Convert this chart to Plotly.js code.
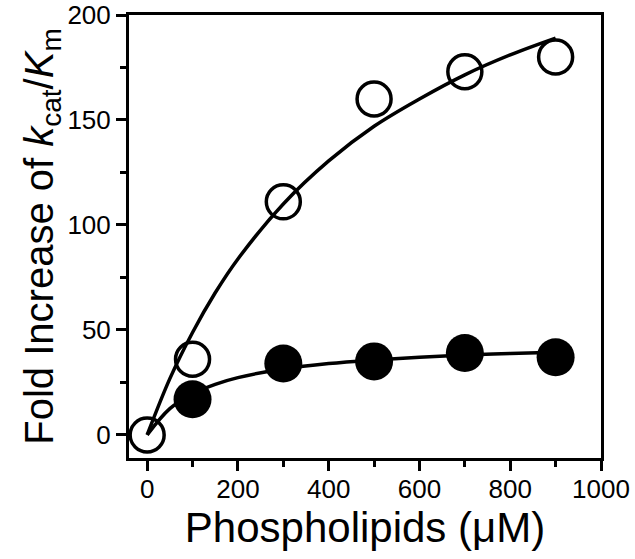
<!DOCTYPE html>
<html><head><meta charset="utf-8">
<script src="https://cdn.plot.ly/plotly-3.0.1.min.js"></script>
<style>html,body{margin:0;padding:0;background:#fff}</style>
</head><body><div id="chart" style="width:635px;height:559px"></div>
<script>
// Data points
const concentrations = [0, 100, 300, 500, 700, 900];
const openValues = [0, 36, 111, 160, 173, 180];
const filledConc = [100, 300, 500, 700, 900];
const filledValues = [17, 34, 35, 39, 37];
// Fitted curves
const fitX = [0, 50, 100, 150, 200, 300, 400, 500, 600, 700, 800, 900];
const openFitY = [0, 26.8, 48.8, 67.7, 83.8, 110, 130.5, 147, 160, 171.5, 181, 189];
const filledFitY = [0, 12.5, 19.6, 24.1, 27.3, 31.4, 34, 35.7, 37, 38, 38.8, 39.4];
const xTitle = 'Phospholipids (μM)';
const yTitle = 'Fold Increase of <i>k</i><sub>cat</sub>/<i>K</i><sub>m</sub>';

const traces = [
  {x: fitX, y: openFitY, mode: 'lines', line: {color: '#000', width: 3.5, shape: 'spline'}, hoverinfo: 'skip'},
  {x: fitX, y: filledFitY, mode: 'lines', line: {color: '#000', width: 3.5, shape: 'spline'}, hoverinfo: 'skip'},
  {x: filledConc, y: filledValues, mode: 'markers', marker: {symbol: 'circle', size: 38, color: '#000', line: {width: 0}}},
  {x: concentrations, y: openValues, mode: 'markers', marker: {symbol: 'circle-open', size: 34, color: '#000', line: {width: 3.5, color: '#000'}}}
];

const fontFam = 'Liberation Sans, Arial, sans-serif';
const axisCommon = {
  showline: true, linewidth: 3, linecolor: '#000', mirror: true,
  ticks: 'outside', ticklen: 10, tickwidth: 3, tickcolor: '#000',
  showgrid: false, zeroline: false,
  tickfont: {family: fontFam, size: 26, color: '#000'}
};
const layout = {
  width: 635, height: 559,
  margin: {l: 129, r: 34, t: 15, b: 101},
  paper_bgcolor: '#fff', plot_bgcolor: '#fff',
  showlegend: false,
  font: {family: fontFam, color: '#000'},
  xaxis: Object.assign({}, axisCommon, {
    range: [-40, 1000], dtick: 200, tick0: 0, ticklabelstandoff: -4,
    minor: {dtick: 100, tick0: 0, ticks: 'outside', ticklen: 6, tickwidth: 3, tickcolor: '#000'},
    title: {text: xTitle, font: {family: fontFam, size: 42, color: '#000'}, standoff: 8}
  }),
  yaxis: Object.assign({}, axisCommon, {
    range: [-11, 200], dtick: 50, tick0: 0,
    minor: {dtick: 25, tick0: 0, ticks: 'outside', ticklen: 6, tickwidth: 3, tickcolor: '#000'},
    title: {text: yTitle, font: {family: fontFam, size: 40, color: '#000'}, standoff: 2}
  })
};
Plotly.newPlot('chart', traces, layout, {staticPlot: true});
</script></body></html>
